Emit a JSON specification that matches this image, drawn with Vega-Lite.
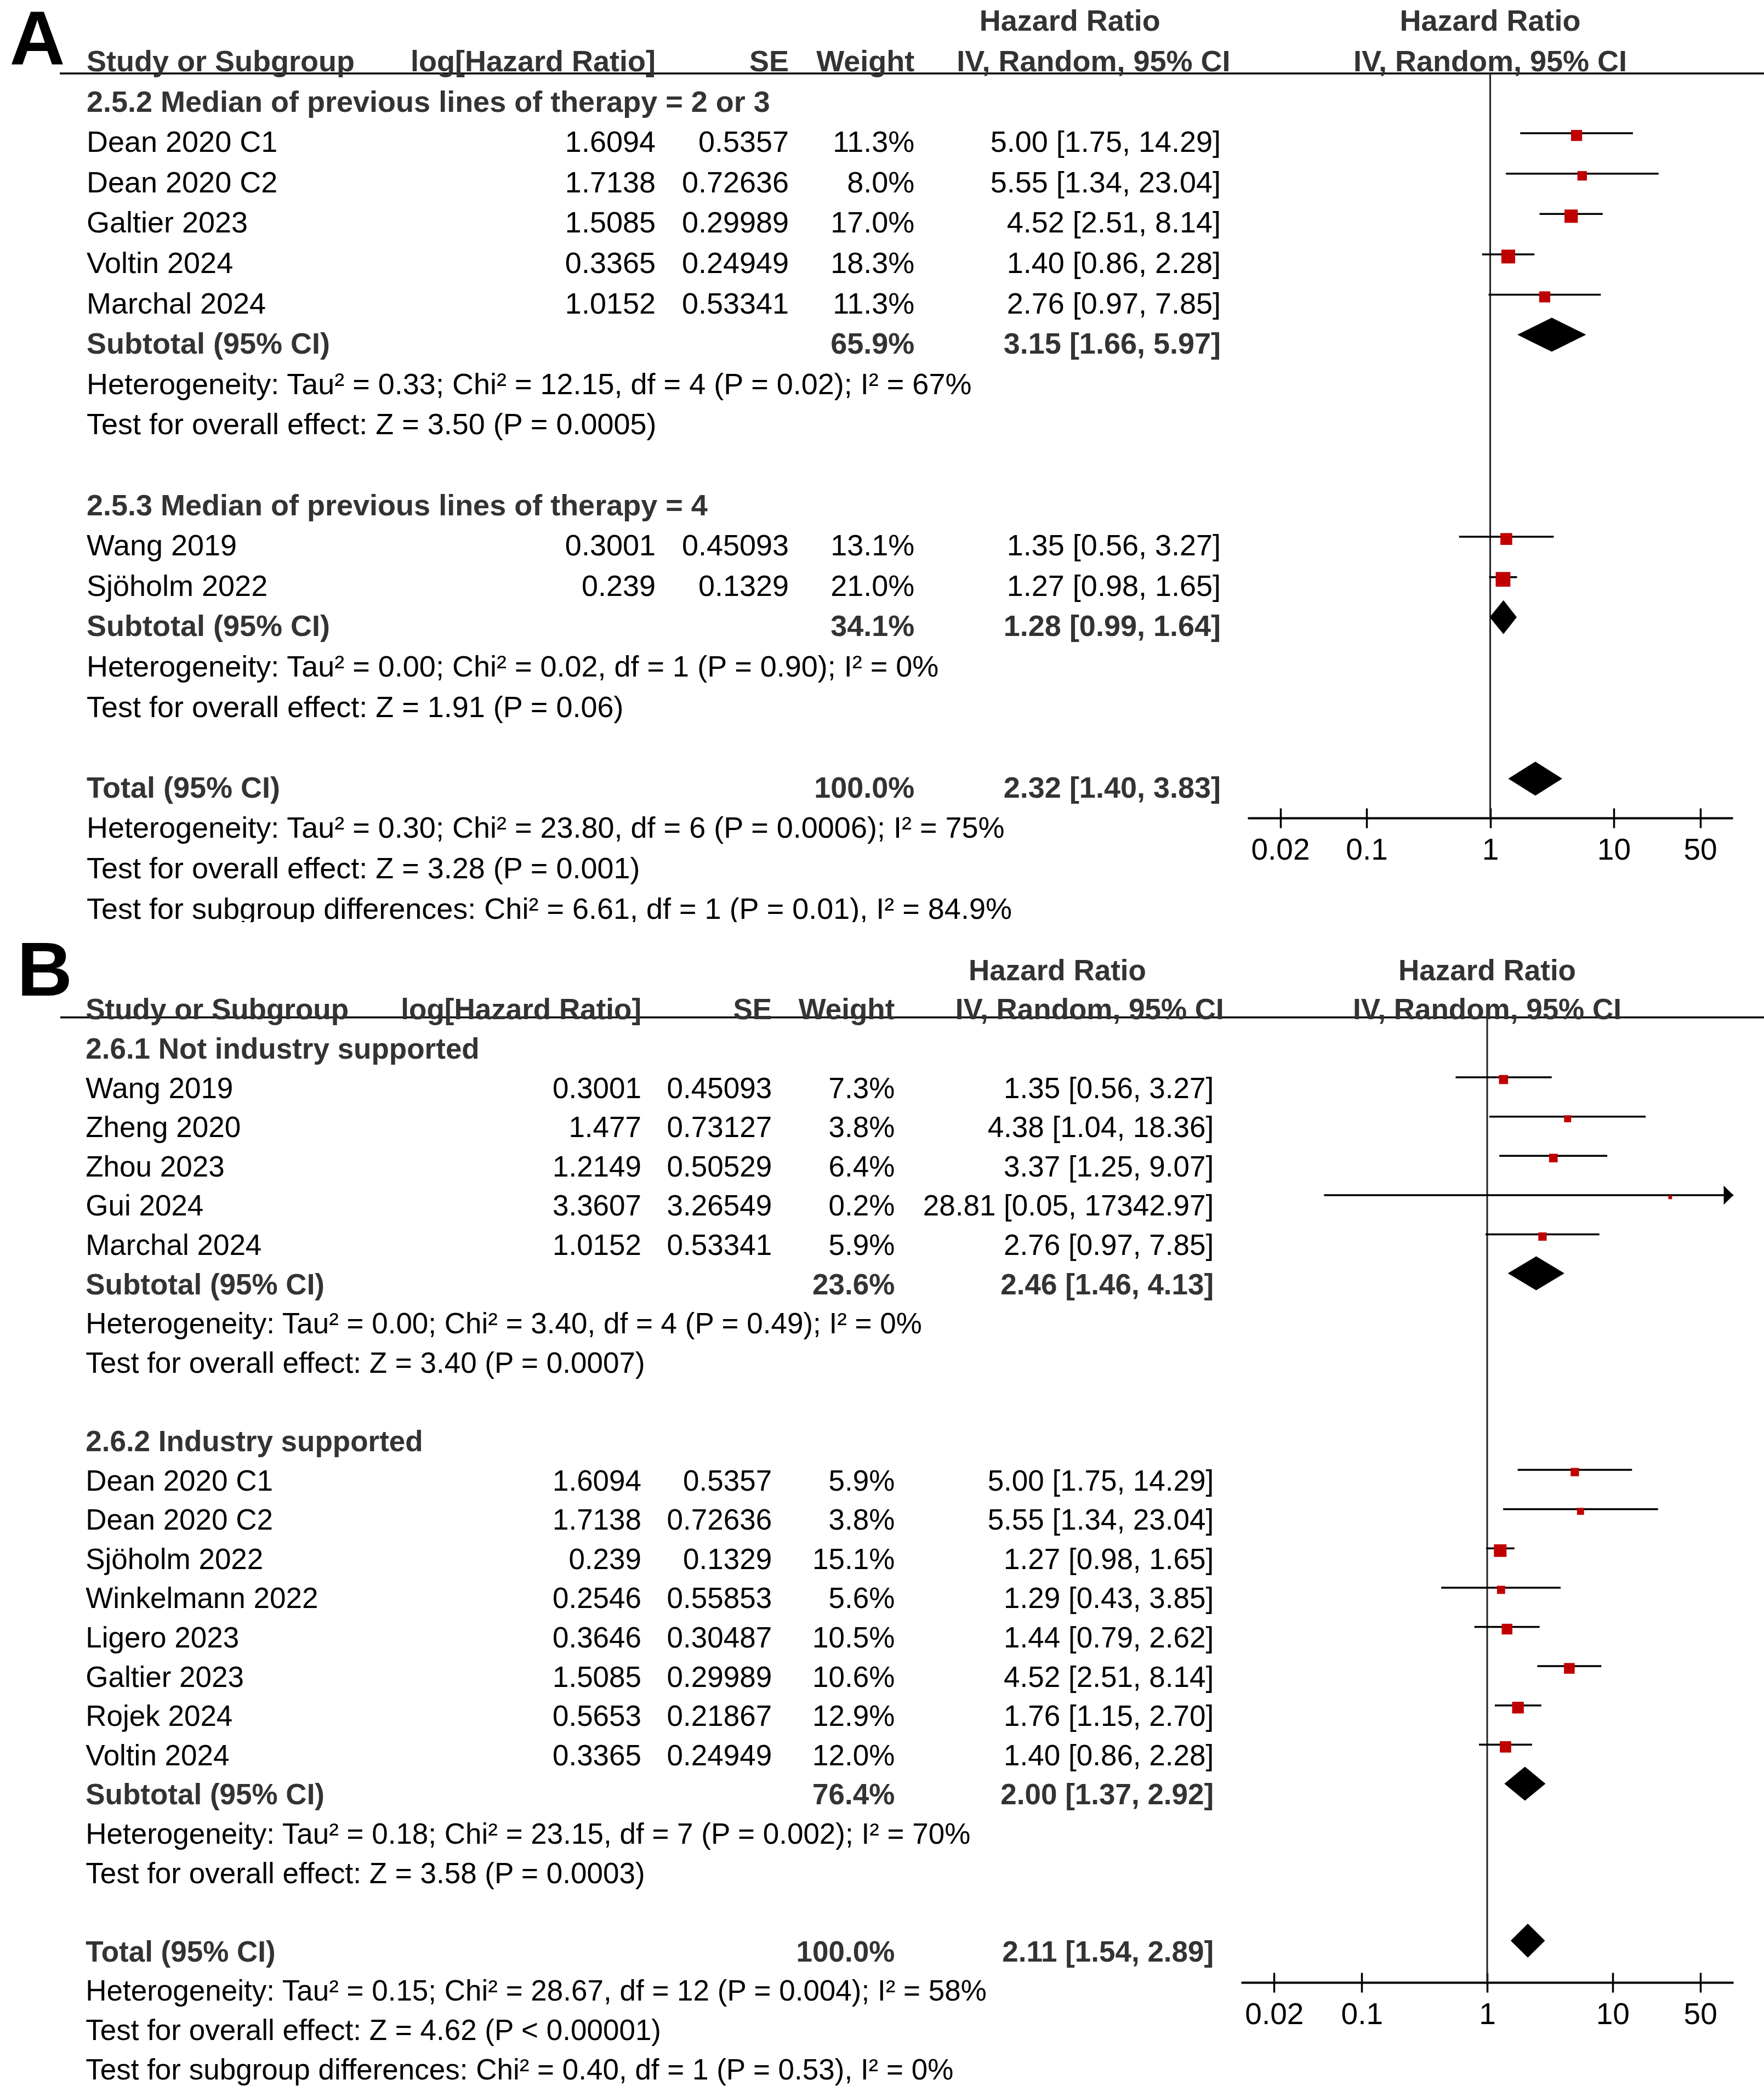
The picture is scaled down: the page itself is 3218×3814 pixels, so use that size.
{
  "$schema": "https://vega.github.io/schema/vega-lite/v6.json",
  "padding": 0,
  "background": "#ffffff",
  "spacing": 0,
  "config": {"view": {"stroke": null}, "text": {"font": "Liberation Sans"}, "axis": {"labelFont": "Liberation Sans"}},
  "datasets": {
    "A": [
      {"row": 1, "kind": "head", "label": "Study or Subgroup", "loghr": "log[Hazard Ratio]", "se": "SE", "weight": "Weight"},
      {"row": 2, "kind": "group", "label": "2.5.2 Median of previous lines of therapy = 2 or 3"},
      {"row": 3, "kind": "study", "label": "Dean 2020 C1", "loghr": "1.6094", "se": "0.5357", "weight": "11.3%", "ci": "5.00 [1.75, 14.29]", "hr": 5.00, "lo": 1.75, "hi": 14.29, "w": 11.3},
      {"row": 4, "kind": "study", "label": "Dean 2020 C2", "loghr": "1.7138", "se": "0.72636", "weight": "8.0%", "ci": "5.55 [1.34, 23.04]", "hr": 5.55, "lo": 1.34, "hi": 23.04, "w": 8.0},
      {"row": 5, "kind": "study", "label": "Galtier 2023", "loghr": "1.5085", "se": "0.29989", "weight": "17.0%", "ci": "4.52 [2.51, 8.14]", "hr": 4.52, "lo": 2.51, "hi": 8.14, "w": 17.0},
      {"row": 6, "kind": "study", "label": "Voltin 2024", "loghr": "0.3365", "se": "0.24949", "weight": "18.3%", "ci": "1.40 [0.86, 2.28]", "hr": 1.40, "lo": 0.86, "hi": 2.28, "w": 18.3},
      {"row": 7, "kind": "study", "label": "Marchal 2024", "loghr": "1.0152", "se": "0.53341", "weight": "11.3%", "ci": "2.76 [0.97, 7.85]", "hr": 2.76, "lo": 0.97, "hi": 7.85, "w": 11.3},
      {"row": 8, "kind": "sub", "label": "Subtotal (95% CI)", "weight": "65.9%", "ci": "3.15 [1.66, 5.97]", "hr": 3.15, "lo": 1.66, "hi": 5.97},
      {"row": 9, "kind": "note", "label": "Heterogeneity: Tau² = 0.33; Chi² = 12.15, df = 4 (P = 0.02); I² = 67%"},
      {"row": 10, "kind": "note", "label": "Test for overall effect: Z = 3.50 (P = 0.0005)"},
      {"row": 12, "kind": "group", "label": "2.5.3 Median of previous lines of therapy = 4"},
      {"row": 13, "kind": "study", "label": "Wang 2019", "loghr": "0.3001", "se": "0.45093", "weight": "13.1%", "ci": "1.35 [0.56, 3.27]", "hr": 1.35, "lo": 0.56, "hi": 3.27, "w": 13.1},
      {"row": 14, "kind": "study", "label": "Sjöholm 2022", "loghr": "0.239", "se": "0.1329", "weight": "21.0%", "ci": "1.27 [0.98, 1.65]", "hr": 1.27, "lo": 0.98, "hi": 1.65, "w": 21.0},
      {"row": 15, "kind": "sub", "label": "Subtotal (95% CI)", "weight": "34.1%", "ci": "1.28 [0.99, 1.64]", "hr": 1.28, "lo": 0.99, "hi": 1.64},
      {"row": 16, "kind": "note", "label": "Heterogeneity: Tau² = 0.00; Chi² = 0.02, df = 1 (P = 0.90); I² = 0%"},
      {"row": 17, "kind": "note", "label": "Test for overall effect: Z = 1.91 (P = 0.06)"},
      {"row": 19, "kind": "total", "label": "Total (95% CI)", "weight": "100.0%", "ci": "2.32 [1.40, 3.83]", "hr": 2.32, "lo": 1.40, "hi": 3.83},
      {"row": 20, "kind": "note", "label": "Heterogeneity: Tau² = 0.30; Chi² = 23.80, df = 6 (P = 0.0006); I² = 75%"},
      {"row": 21, "kind": "note", "label": "Test for overall effect: Z = 3.28 (P = 0.001)"},
      {"row": 22, "kind": "note", "label": "Test for subgroup differences: Chi² = 6.61, df = 1 (P = 0.01), I² = 84.9%"}
    ],
    "B": [
      {"row": 1, "kind": "head", "label": "Study or Subgroup", "loghr": "log[Hazard Ratio]", "se": "SE", "weight": "Weight"},
      {"row": 2, "kind": "group", "label": "2.6.1 Not industry supported"},
      {"row": 3, "kind": "study", "label": "Wang 2019", "loghr": "0.3001", "se": "0.45093", "weight": "7.3%", "ci": "1.35 [0.56, 3.27]", "hr": 1.35, "lo": 0.56, "hi": 3.27, "w": 7.3},
      {"row": 4, "kind": "study", "label": "Zheng 2020", "loghr": "1.477", "se": "0.73127", "weight": "3.8%", "ci": "4.38 [1.04, 18.36]", "hr": 4.38, "lo": 1.04, "hi": 18.36, "w": 3.8},
      {"row": 5, "kind": "study", "label": "Zhou 2023", "loghr": "1.2149", "se": "0.50529", "weight": "6.4%", "ci": "3.37 [1.25, 9.07]", "hr": 3.37, "lo": 1.25, "hi": 9.07, "w": 6.4},
      {"row": 6, "kind": "study", "label": "Gui 2024", "loghr": "3.3607", "se": "3.26549", "weight": "0.2%", "ci": "28.81 [0.05, 17342.97]", "hr": 28.81, "lo": 0.05, "hi": 17342.97, "w": 0.2},
      {"row": 7, "kind": "study", "label": "Marchal 2024", "loghr": "1.0152", "se": "0.53341", "weight": "5.9%", "ci": "2.76 [0.97, 7.85]", "hr": 2.76, "lo": 0.97, "hi": 7.85, "w": 5.9},
      {"row": 8, "kind": "sub", "label": "Subtotal (95% CI)", "weight": "23.6%", "ci": "2.46 [1.46, 4.13]", "hr": 2.46, "lo": 1.46, "hi": 4.13},
      {"row": 9, "kind": "note", "label": "Heterogeneity: Tau² = 0.00; Chi² = 3.40, df = 4 (P = 0.49); I² = 0%"},
      {"row": 10, "kind": "note", "label": "Test for overall effect: Z = 3.40 (P = 0.0007)"},
      {"row": 12, "kind": "group", "label": "2.6.2 Industry supported"},
      {"row": 13, "kind": "study", "label": "Dean 2020 C1", "loghr": "1.6094", "se": "0.5357", "weight": "5.9%", "ci": "5.00 [1.75, 14.29]", "hr": 5.00, "lo": 1.75, "hi": 14.29, "w": 5.9},
      {"row": 14, "kind": "study", "label": "Dean 2020 C2", "loghr": "1.7138", "se": "0.72636", "weight": "3.8%", "ci": "5.55 [1.34, 23.04]", "hr": 5.55, "lo": 1.34, "hi": 23.04, "w": 3.8},
      {"row": 15, "kind": "study", "label": "Sjöholm 2022", "loghr": "0.239", "se": "0.1329", "weight": "15.1%", "ci": "1.27 [0.98, 1.65]", "hr": 1.27, "lo": 0.98, "hi": 1.65, "w": 15.1},
      {"row": 16, "kind": "study", "label": "Winkelmann 2022", "loghr": "0.2546", "se": "0.55853", "weight": "5.6%", "ci": "1.29 [0.43, 3.85]", "hr": 1.29, "lo": 0.43, "hi": 3.85, "w": 5.6},
      {"row": 17, "kind": "study", "label": "Ligero 2023", "loghr": "0.3646", "se": "0.30487", "weight": "10.5%", "ci": "1.44 [0.79, 2.62]", "hr": 1.44, "lo": 0.79, "hi": 2.62, "w": 10.5},
      {"row": 18, "kind": "study", "label": "Galtier 2023", "loghr": "1.5085", "se": "0.29989", "weight": "10.6%", "ci": "4.52 [2.51, 8.14]", "hr": 4.52, "lo": 2.51, "hi": 8.14, "w": 10.6},
      {"row": 19, "kind": "study", "label": "Rojek 2024", "loghr": "0.5653", "se": "0.21867", "weight": "12.9%", "ci": "1.76 [1.15, 2.70]", "hr": 1.76, "lo": 1.15, "hi": 2.70, "w": 12.9},
      {"row": 20, "kind": "study", "label": "Voltin 2024", "loghr": "0.3365", "se": "0.24949", "weight": "12.0%", "ci": "1.40 [0.86, 2.28]", "hr": 1.40, "lo": 0.86, "hi": 2.28, "w": 12.0},
      {"row": 21, "kind": "sub", "label": "Subtotal (95% CI)", "weight": "76.4%", "ci": "2.00 [1.37, 2.92]", "hr": 2.00, "lo": 1.37, "hi": 2.92},
      {"row": 22, "kind": "note", "label": "Heterogeneity: Tau² = 0.18; Chi² = 23.15, df = 7 (P = 0.002); I² = 70%"},
      {"row": 23, "kind": "note", "label": "Test for overall effect: Z = 3.58 (P = 0.0003)"},
      {"row": 25, "kind": "total", "label": "Total (95% CI)", "weight": "100.0%", "ci": "2.11 [1.54, 2.89]", "hr": 2.11, "lo": 1.54, "hi": 2.89},
      {"row": 26, "kind": "note", "label": "Heterogeneity: Tau² = 0.15; Chi² = 28.67, df = 12 (P = 0.004); I² = 58%"},
      {"row": 27, "kind": "note", "label": "Test for overall effect: Z = 4.62 (P < 0.00001)"},
      {"row": 28, "kind": "note", "label": "Test for subgroup differences: Chi² = 0.40, df = 1 (P = 0.53), I² = 0%"}
    ]
  },
  "vconcat": [
    {
      "spacing": 0,
      "bounds": "flush",
      "hconcat": [
        {
          "width": 2276,
          "height": 1682,
          "data": {"name": "A"},
          "layer": [
            {
              "data": {"values": [{"t": "A"}]},
              "mark": {"type": "text", "fontSize": 140, "fontWeight": "bold", "color": "#000000", "align": "left", "baseline": "middle"},
              "encoding": {
                "x": {"datum": 0.77, "type": "quantitative", "scale": {"domain": [0, 100], "nice": false, "zero": false}, "axis": null},
                "y": {"datum": 0.489, "type": "quantitative", "scale": {"domain": [-0.5476, 22.305], "nice": false, "zero": false, "reverse": true}, "axis": null},
                "text": {"field": "t"}
              }
            },
            {
              "data": {"values": [{}]},
              "mark": {"type": "rule", "color": "#000000", "strokeWidth": 3.5},
              "encoding": {"x": {"datum": 4.79, "type": "quantitative"}, "x2": {"datum": 100}, "y": {"datum": 1.273, "type": "quantitative"}}
            },
            {
              "data": {"values": [{"t": "Hazard Ratio", "row": 0}]},
              "mark": {"type": "text", "fontSize": 54, "fontWeight": "bold", "color": "#333333", "align": "center", "baseline": "middle"},
              "encoding": {"x": {"datum": 85.75, "type": "quantitative"}, "y": {"field": "row", "type": "quantitative"}, "text": {"field": "t"}}
            },
            {
              "data": {"values": [{"t": "IV, Random, 95% CI", "row": 1}]},
              "mark": {"type": "text", "fontSize": 54, "fontWeight": "bold", "color": "#333333", "align": "center", "baseline": "middle"},
              "encoding": {"x": {"datum": 87.65, "type": "quantitative"}, "y": {"field": "row", "type": "quantitative"}, "text": {"field": "t"}}
            },
            {
              "mark": {"type": "text", "fontSize": 54, "align": "left", "baseline": "middle", "clip": true, "fontWeight": {"expr": "indexof(['head','group','sub','total'], datum.kind) >= 0 ? 'bold' : 'normal'"}},
              "encoding": {
                "x": {"datum": 6.94, "type": "quantitative"},
                "y": {"field": "row", "type": "quantitative"},
                "text": {"field": "label"},
                "color": {"condition": {"test": "datum.kind !== 'study' && datum.kind !== 'note'", "value": "#333333"}, "value": "#000000"}
              }
            },
            {
              "transform": [{"filter": "isValid(datum.loghr)"}],
              "mark": {"type": "text", "fontSize": 54, "align": "right", "baseline": "middle", "clip": true, "fontWeight": {"expr": "datum.kind === 'study' ? 'normal' : 'bold'"}},
              "encoding": {
                "x": {"datum": 52.55, "type": "quantitative"},
                "y": {"field": "row", "type": "quantitative"},
                "text": {"field": "loghr"},
                "color": {"condition": {"test": "datum.kind !== 'study'", "value": "#333333"}, "value": "#000000"}
              }
            },
            {
              "transform": [{"filter": "isValid(datum.se)"}],
              "mark": {"type": "text", "fontSize": 54, "align": "right", "baseline": "middle", "clip": true, "fontWeight": {"expr": "datum.kind === 'study' ? 'normal' : 'bold'"}},
              "encoding": {
                "x": {"datum": 63.23, "type": "quantitative"},
                "y": {"field": "row", "type": "quantitative"},
                "text": {"field": "se"},
                "color": {"condition": {"test": "datum.kind !== 'study'", "value": "#333333"}, "value": "#000000"}
              }
            },
            {
              "transform": [{"filter": "isValid(datum.weight)"}],
              "mark": {"type": "text", "fontSize": 54, "align": "right", "baseline": "middle", "clip": true, "fontWeight": {"expr": "datum.kind === 'study' ? 'normal' : 'bold'"}},
              "encoding": {
                "x": {"datum": 73.3, "type": "quantitative"},
                "y": {"field": "row", "type": "quantitative"},
                "text": {"field": "weight"},
                "color": {"condition": {"test": "datum.kind !== 'study'", "value": "#333333"}, "value": "#000000"}
              }
            },
            {
              "transform": [{"filter": "isValid(datum.ci)"}],
              "mark": {"type": "text", "fontSize": 54, "align": "right", "baseline": "middle", "clip": true, "fontWeight": {"expr": "datum.kind === 'study' ? 'normal' : 'bold'"}},
              "encoding": {
                "x": {"datum": 97.85, "type": "quantitative"},
                "y": {"field": "row", "type": "quantitative"},
                "text": {"field": "ci"},
                "color": {"condition": {"test": "datum.kind !== 'study'", "value": "#333333"}, "value": "#000000"}
              }
            }
          ]
        },
        {
          "width": 885,
          "height": 1492,
          "data": {"name": "A"},
          "resolve": {"axis": {"x": "independent"}},
          "layer": [
            {
              "data": {"values": [{}]},
              "mark": {"type": "rule", "color": "#000000", "strokeWidth": 3.5},
              "encoding": {"y": {"datum": 1.273, "type": "quantitative", "scale": {"domain": [-0.5476, 19.724], "nice": false, "zero": false, "reverse": true}, "axis": null}}
            },
            {
              "data": {"values": [{}]},
              "mark": {"type": "rule", "color": "#222222", "strokeWidth": 3},
              "encoding": {
                "x": {"datum": 1, "type": "quantitative", "scale": {"type": "log", "domain": [0.01089, 91.8], "clamp": true, "nice": false}, "axis": null},
                "y": {"datum": 1.273, "type": "quantitative"},
                "y2": {"datum": 19.724}
              }
            },
            {
              "data": {"values": [{"t": "Hazard Ratio", "row": 0}, {"t": "IV, Random, 95% CI", "row": 1}]},
              "mark": {"type": "text", "fontSize": 54, "fontWeight": "bold", "color": "#333333", "align": "center", "baseline": "middle"},
              "encoding": {"x": {"datum": 1, "type": "quantitative", "axis": null}, "y": {"field": "row", "type": "quantitative"}, "text": {"field": "t"}}
            },
            {
              "transform": [{"filter": "datum.kind === 'study'"}],
              "mark": {"type": "rule", "color": "#000000", "strokeWidth": 3.5, "yOffset": -18},
              "encoding": {
                "x": {"field": "lo", "type": "quantitative", "scale": {"type": "log", "domain": [0.01089, 91.8], "clamp": true, "nice": false},
                      "axis": {"orient": "bottom", "values": [0.02, 0.1, 1, 10, 50], "format": "~g", "title": null, "grid": false, "domain": true, "domainColor": "#000000", "domainWidth": 4, "ticks": true, "tickColor": "#000000", "tickWidth": 3.5, "tickSize": 18, "labels": true, "labelFont": "Liberation Sans", "labelFontSize": 55, "labelColor": "#000000", "labelPadding": 14, "labelOverlap": false, "labelFlush": false, "labelBound": false}},
                "x2": {"field": "hi"},
                "y": {"field": "row", "type": "quantitative"}
              }
            },
            {
              "transform": [{"filter": "datum.kind === 'study'"}],
              "mark": {"type": "point", "shape": "square", "filled": true, "color": "#c00000", "opacity": 1, "yOffset": -14},
              "encoding": {
                "x": {"field": "hr", "type": "quantitative",
                      "axis": {"orient": "bottom", "values": [0.02, 0.1, 1, 10, 50], "title": null, "grid": false, "domain": false, "labels": false, "ticks": true, "tickColor": "#000000", "tickWidth": 3.5, "tickSize": -18}},
                "y": {"field": "row", "type": "quantitative"},
                "size": {"field": "w", "type": "quantitative", "scale": {"domain": [0, 21], "range": [40, 720]}, "legend": null}
              }
            },
            {
              "transform": [{"filter": "datum.kind === 'sub' || datum.kind === 'total'"}, {"fold": ["lo", "hr", "hi"], "as": ["key", "val"]}],
              "mark": {"type": "area", "orient": "vertical", "color": "#000000", "opacity": 1, "yOffset": {"expr": "datum.key === 'hr' ? -49.5 : -18.5"}, "y2Offset": {"expr": "datum.key === 'hr' ? 12.5 : -18.5"}},
              "encoding": {
                "x": {"field": "val", "type": "quantitative", "axis": null},
                "y": {"field": "row", "type": "quantitative", "stack": null},
                "y2": {"field": "row"},
                "detail": {"field": "row"}
              }
            }
          ]
        },
        {
          "width": 57,
          "height": 1682,
          "data": {"values": [{}]},
          "mark": {"type": "rule", "color": "#000000", "strokeWidth": 3.5},
          "encoding": {"y": {"datum": 1.273, "type": "quantitative", "scale": {"domain": [-0.5476, 22.305], "nice": false, "zero": false, "reverse": true}, "axis": null}}
        }
      ]
    },
    {
      "spacing": 0,
      "bounds": "flush",
      "hconcat": [
        {
          "width": 2264,
          "height": 2132,
          "data": {"name": "B"},
          "layer": [
            {
              "data": {"values": [{"t": "B"}]},
              "mark": {"type": "text", "fontSize": 140, "fontWeight": "bold", "color": "#000000", "align": "left", "baseline": "middle"},
              "encoding": {
                "x": {"datum": 1.37, "type": "quantitative", "scale": {"domain": [0, 100], "nice": false, "zero": false}, "axis": null},
                "y": {"datum": 0.035, "type": "quantitative", "scale": {"domain": [-1.254, 28.522], "nice": false, "zero": false, "reverse": true}, "axis": null},
                "text": {"field": "t"}
              }
            },
            {
              "data": {"values": [{}]},
              "mark": {"type": "rule", "color": "#000000", "strokeWidth": 3.5},
              "encoding": {"x": {"datum": 4.86, "type": "quantitative"}, "x2": {"datum": 100}, "y": {"datum": 1.172, "type": "quantitative"}}
            },
            {
              "data": {"values": [{"t": "Hazard Ratio", "row": 0}]},
              "mark": {"type": "text", "fontSize": 53, "fontWeight": "bold", "color": "#333333", "align": "center", "baseline": "middle"},
              "encoding": {"x": {"datum": 85.2, "type": "quantitative"}, "y": {"field": "row", "type": "quantitative"}, "text": {"field": "t"}}
            },
            {
              "data": {"values": [{"t": "IV, Random, 95% CI", "row": 1}]},
              "mark": {"type": "text", "fontSize": 53, "fontWeight": "bold", "color": "#333333", "align": "center", "baseline": "middle"},
              "encoding": {"x": {"datum": 87.8, "type": "quantitative"}, "y": {"field": "row", "type": "quantitative"}, "text": {"field": "t"}}
            },
            {
              "mark": {"type": "text", "fontSize": 53, "align": "left", "baseline": "middle", "clip": true, "fontWeight": {"expr": "indexof(['head','group','sub','total'], datum.kind) >= 0 ? 'bold' : 'normal'"}},
              "encoding": {
                "x": {"datum": 6.9, "type": "quantitative"},
                "y": {"field": "row", "type": "quantitative"},
                "text": {"field": "label"},
                "color": {"condition": {"test": "datum.kind !== 'study' && datum.kind !== 'note'", "value": "#333333"}, "value": "#000000"}
              }
            },
            {
              "transform": [{"filter": "isValid(datum.loghr)"}],
              "mark": {"type": "text", "fontSize": 53, "align": "right", "baseline": "middle", "clip": true, "fontWeight": {"expr": "datum.kind === 'study' ? 'normal' : 'bold'"}},
              "encoding": {
                "x": {"datum": 51.68, "type": "quantitative"},
                "y": {"field": "row", "type": "quantitative"},
                "text": {"field": "loghr"},
                "color": {"condition": {"test": "datum.kind !== 'study'", "value": "#333333"}, "value": "#000000"}
              }
            },
            {
              "transform": [{"filter": "isValid(datum.se)"}],
              "mark": {"type": "text", "fontSize": 53, "align": "right", "baseline": "middle", "clip": true, "fontWeight": {"expr": "datum.kind === 'study' ? 'normal' : 'bold'"}},
              "encoding": {
                "x": {"datum": 62.2, "type": "quantitative"},
                "y": {"field": "row", "type": "quantitative"},
                "text": {"field": "se"},
                "color": {"condition": {"test": "datum.kind !== 'study'", "value": "#333333"}, "value": "#000000"}
              }
            },
            {
              "transform": [{"filter": "isValid(datum.weight)"}],
              "mark": {"type": "text", "fontSize": 53, "align": "right", "baseline": "middle", "clip": true, "fontWeight": {"expr": "datum.kind === 'study' ? 'normal' : 'bold'"}},
              "encoding": {
                "x": {"datum": 72.1, "type": "quantitative"},
                "y": {"field": "row", "type": "quantitative"},
                "text": {"field": "weight"},
                "color": {"condition": {"test": "datum.kind !== 'study'", "value": "#333333"}, "value": "#000000"}
              }
            },
            {
              "transform": [{"filter": "isValid(datum.ci)"}],
              "mark": {"type": "text", "fontSize": 53, "align": "right", "baseline": "middle", "clip": true, "fontWeight": {"expr": "datum.kind === 'study' ? 'normal' : 'bold'"}},
              "encoding": {
                "x": {"datum": 97.8, "type": "quantitative"},
                "y": {"field": "row", "type": "quantitative"},
                "text": {"field": "ci"},
                "color": {"condition": {"test": "datum.kind !== 'study'", "value": "#333333"}, "value": "#000000"}
              }
            }
          ]
        },
        {
          "width": 898,
          "height": 1934,
          "data": {"name": "B"},
          "resolve": {"axis": {"x": "independent"}},
          "layer": [
            {
              "data": {"values": [{}]},
              "mark": {"type": "rule", "color": "#000000", "strokeWidth": 3.5},
              "encoding": {"y": {"datum": 1.172, "type": "quantitative", "scale": {"domain": [-1.254, 25.757], "nice": false, "zero": false, "reverse": true}, "axis": null}}
            },
            {
              "data": {"values": [{}]},
              "mark": {"type": "rule", "color": "#222222", "strokeWidth": 3},
              "encoding": {
                "x": {"datum": 1, "type": "quantitative", "scale": {"type": "log", "domain": [0.01089, 91.8], "clamp": true, "nice": false}, "axis": null},
                "y": {"datum": 1.172, "type": "quantitative"},
                "y2": {"datum": 25.757}
              }
            },
            {
              "data": {"values": [{"t": "Hazard Ratio", "row": 0}, {"t": "IV, Random, 95% CI", "row": 1}]},
              "mark": {"type": "text", "fontSize": 53, "fontWeight": "bold", "color": "#333333", "align": "center", "baseline": "middle"},
              "encoding": {"x": {"datum": 1, "type": "quantitative", "axis": null}, "y": {"field": "row", "type": "quantitative"}, "text": {"field": "t"}}
            },
            {
              "transform": [{"filter": "datum.kind === 'study'"}],
              "mark": {"type": "rule", "color": "#000000", "strokeWidth": 3.5, "yOffset": -21.5},
              "encoding": {
                "x": {"field": "lo", "type": "quantitative", "scale": {"type": "log", "domain": [0.01089, 91.8], "clamp": true, "nice": false},
                      "axis": {"orient": "bottom", "values": [0.02, 0.1, 1, 10, 50], "format": "~g", "title": null, "grid": false, "domain": true, "domainColor": "#000000", "domainWidth": 4, "ticks": true, "tickColor": "#000000", "tickWidth": 3.5, "tickSize": 18, "labels": true, "labelFont": "Liberation Sans", "labelFontSize": 55, "labelColor": "#000000", "labelPadding": 14, "labelOverlap": false, "labelFlush": false, "labelBound": false}},
                "x2": {"field": "hi"},
                "y": {"field": "row", "type": "quantitative"}
              }
            },
            {
              "transform": [{"filter": "datum.kind === 'study'"}],
              "mark": {"type": "point", "shape": "square", "filled": true, "color": "#c00000", "opacity": 1, "yOffset": -17.5},
              "encoding": {
                "x": {"field": "hr", "type": "quantitative",
                      "axis": {"orient": "bottom", "values": [0.02, 0.1, 1, 10, 50], "title": null, "grid": false, "domain": false, "labels": false, "ticks": true, "tickColor": "#000000", "tickWidth": 3.5, "tickSize": -18}},
                "y": {"field": "row", "type": "quantitative"},
                "size": {"field": "w", "type": "quantitative", "scale": {"domain": [0, 21], "range": [40, 720]}, "legend": null}
              }
            },
            {
              "transform": [{"filter": "datum.kind === 'study' && datum.hi > 91"}],
              "mark": {"type": "point", "shape": "M -1 -1 L 0 0 L -1 1 Z", "filled": true, "color": "#000000", "opacity": 1, "size": 1225, "yOffset": -21.5},
              "encoding": {
                "x": {"field": "hi", "type": "quantitative", "axis": null},
                "y": {"field": "row", "type": "quantitative"}
              }
            },
            {
              "transform": [{"filter": "datum.kind === 'sub' || datum.kind === 'total'"}, {"fold": ["lo", "hr", "hi"], "as": ["key", "val"]}],
              "mark": {"type": "area", "orient": "vertical", "color": "#000000", "opacity": 1, "yOffset": {"expr": "datum.key === 'hr' ? -53 : -22"}, "y2Offset": {"expr": "datum.key === 'hr' ? 9 : -22"}},
              "encoding": {
                "x": {"field": "val", "type": "quantitative", "axis": null},
                "y": {"field": "row", "type": "quantitative", "stack": null},
                "y2": {"field": "row"},
                "detail": {"field": "row"}
              }
            }
          ]
        },
        {
          "width": 56,
          "height": 2132,
          "data": {"values": [{}]},
          "mark": {"type": "rule", "color": "#000000", "strokeWidth": 3.5},
          "encoding": {"y": {"datum": 1.172, "type": "quantitative", "scale": {"domain": [-1.254, 28.522], "nice": false, "zero": false, "reverse": true}, "axis": null}}
        }
      ]
    }
  ]
}
